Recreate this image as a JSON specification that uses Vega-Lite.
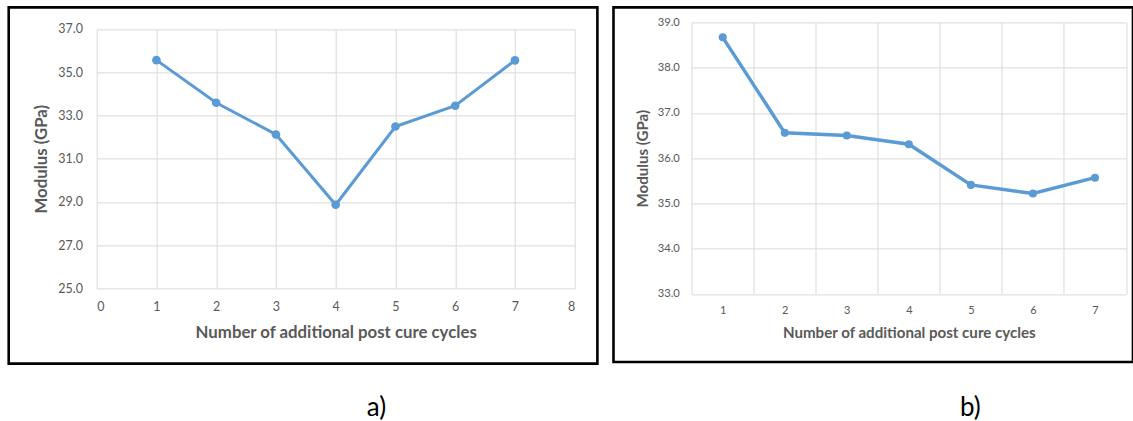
{
  "$schema": "https://vega.github.io/schema/vega-lite/v6.json",
  "background": "white",
  "padding": {"left": 6.7, "top": 5.4, "right": 0, "bottom": 0},
  "spacing": 15.8,
  "bounds": "flush",
  "config": {
    "font": "Lato",
    "view": {"stroke": "#000000", "strokeWidth": 2.6},
    "axis": {
      "domain": false,
      "ticks": false,
      "tickSize": 0,
      "gridColor": "#D9D9D9",
      "gridWidth": 1,
      "gridOpacity": 1,
      "labelColor": "#595959",
      "labelFont": "Lato",
      "titleColor": "#595959",
      "titleFont": "Lato",
      "titleFontWeight": "bold"
    },
    "title": {"font": "Lato", "fontSize": 26, "fontWeight": "normal", "color": "#000000"}
  },
  "datasets": {
    "postcure_a": [
      {"cycles": 1, "modulus": 35.56},
      {"cycles": 2, "modulus": 33.59},
      {"cycles": 3, "modulus": 32.12},
      {"cycles": 4, "modulus": 28.87},
      {"cycles": 5, "modulus": 32.49},
      {"cycles": 6, "modulus": 33.45},
      {"cycles": 7, "modulus": 35.55}
    ],
    "postcure_b": [
      {"cycles": 1, "modulus": 38.67},
      {"cycles": 2, "modulus": 36.56},
      {"cycles": 3, "modulus": 36.5},
      {"cycles": 4, "modulus": 36.31},
      {"cycles": 5, "modulus": 35.41},
      {"cycles": 6, "modulus": 35.22},
      {"cycles": 7, "modulus": 35.57}
    ]
  },
  "hconcat": [
    {
      "width": 588.7,
      "height": 356.2,
      "data": {"name": "postcure_a"},
      "title": {"text": "a)", "orient": "bottom", "anchor": "start", "frame": "group", "dx": 358, "offset": 31.6},
      "encoding": {
        "y": {
          "field": "modulus", "type": "quantitative",
          "scale": {"domain": [25, 37], "range": [281, 21.6], "nice": false, "zero": false},
          "axis": {
            "orient": "left", "offset": -88, "grid": true,
            "values": [25, 27, 29, 31, 33, 35, 37], "format": ".1f",
            "labelFontSize": 12.5, "labelPadding": 14.3,
            "title": "Modulus (GPa)",
            "titleFontSize": 16.8, "titlePadding": 7.5
          }
        }
      },
      "layer": [
        {
          "mark": {"type": "line", "color": "#5B9BD5", "strokeWidth": 3},
          "encoding": {
            "x": {
              "field": "cycles", "type": "quantitative",
              "scale": {"domain": [0, 8], "range": [88, 566], "nice": false, "zero": false},
              "axis": {
                "orient": "bottom", "offset": -75.2, "grid": false,
                "values": [0, 1, 2, 3, 4, 5, 6, 7, 8],
                "labelFontSize": 12.5, "labelPadding": 12,
                "title": "Number of additional post cure cycles",
                "titleFontSize": 16.8, "titlePadding": 11.5
              }
            }
          }
        },
        {
          "mark": {"type": "point", "filled": true, "color": "#5B9BD5", "size": 75, "opacity": 1},
          "encoding": {
            "x": {
              "field": "cycles", "type": "quantitative",
              "axis": {
                "orient": "top", "grid": true, "labels": false, "title": null,
                "values": [0, 1, 2, 3, 4, 5, 6, 7, 8]
              }
            }
          }
        }
      ],
      "resolve": {"axis": {"x": "independent"}}
    },
    {
      "width": 519.5,
      "height": 354.6,
      "data": {"name": "postcure_b"},
      "title": {"text": "b)", "orient": "bottom", "anchor": "start", "frame": "group", "dx": 346.5, "offset": 33.2},
      "encoding": {
        "y": {
          "field": "modulus", "type": "quantitative",
          "scale": {"domain": [33, 39], "range": [286.6, 15], "nice": false, "zero": false},
          "axis": {
            "orient": "left", "offset": -78.2, "grid": true,
            "values": [33, 34, 35, 36, 37, 38, 39], "format": ".1f",
            "labelFontSize": 11.2, "labelPadding": 12.4,
            "title": "Modulus (GPa)",
            "titleFontSize": 15.1, "titlePadding": 6.5
          }
        }
      },
      "layer": [
        {
          "mark": {"type": "line", "color": "#5B9BD5", "strokeWidth": 3.5},
          "encoding": {
            "x": {
              "field": "cycles", "type": "quantitative",
              "scale": {"domain": [0.5, 7.5], "range": [78.2, 512.5], "nice": false, "zero": false},
              "axis": {
                "orient": "bottom", "offset": -68, "grid": false,
                "values": [1, 2, 3, 4, 5, 6, 7],
                "labelFontSize": 11, "labelPadding": 11,
                "title": "Number of additional post cure cycles",
                "titleFontSize": 15.1, "titlePadding": 10
              }
            }
          }
        },
        {
          "mark": {"type": "point", "filled": true, "color": "#5B9BD5", "size": 65, "opacity": 1},
          "encoding": {
            "x": {
              "field": "cycles", "type": "quantitative",
              "axis": {
                "orient": "top", "grid": true, "labels": false, "title": null,
                "values": [0.5, 1.5, 2.5, 3.5, 4.5, 5.5, 6.5, 7.5]
              }
            }
          }
        }
      ],
      "resolve": {"axis": {"x": "independent"}}
    }
  ]
}
